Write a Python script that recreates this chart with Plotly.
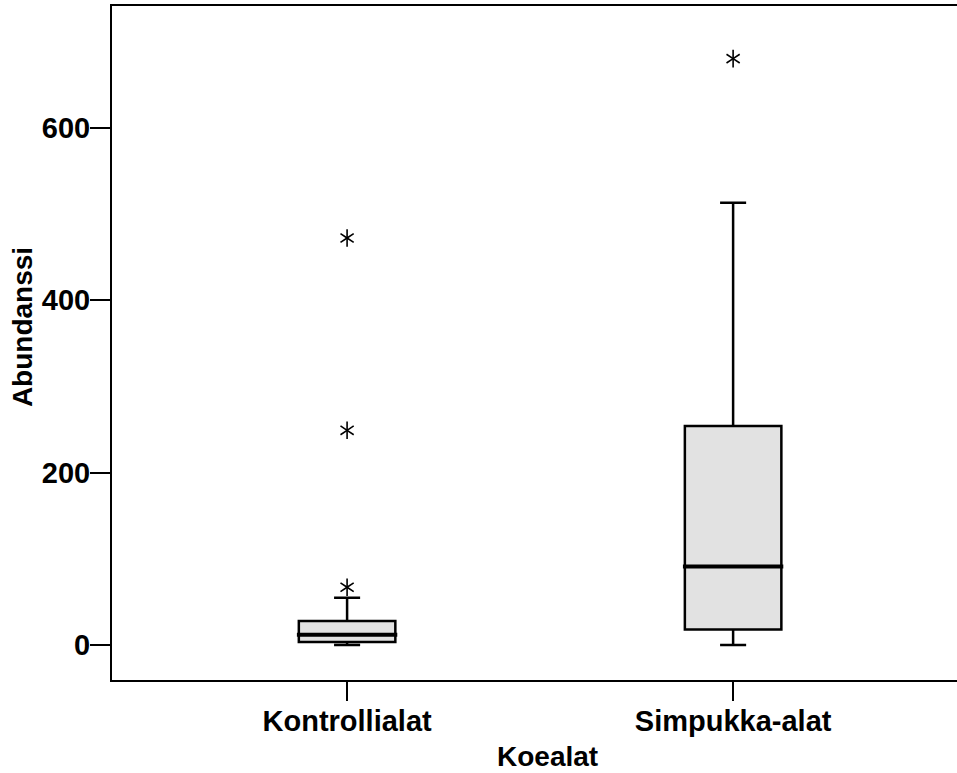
import plotly.graph_objects as go

categories = ["Kontrollialat", "Simpukka-alat"]
positions = [0, 1]
q1 = [3.5, 18]
median = [12, 91]
q3 = [28, 254]
lower_fence = [0, 0]
upper_fence = [55, 513]
outlier_x = [0, 0, 0, 1]
outlier_y = [67, 249, 472, 680]

y_ticks = [0, 200, 400, 600]

box_width = 0.25
FONT = "Liberation Sans, Arial, sans-serif"

fig = go.Figure()
for i, cat in enumerate(categories):
    fig.add_trace(go.Box(
        x=[positions[i]], q1=[q1[i]], median=[median[i]], q3=[q3[i]],
        lowerfence=[lower_fence[i]], upperfence=[upper_fence[i]],
        width=box_width, whiskerwidth=0.27, boxpoints=False,
        fillcolor="#e2e2e2", line=dict(color="black", width=2.5),
        name=cat, showlegend=False, hoverinfo="skip",
    ))
    fig.add_trace(go.Scatter(
        x=[positions[i] - box_width / 2 - 0.005, positions[i] + box_width / 2 + 0.005],
        y=[median[i], median[i]], mode="lines",
        line=dict(color="black", width=4), showlegend=False, hoverinfo="skip",
    ))

for sym in ["y-up-open", "y-down-open"]:
    fig.add_trace(go.Scatter(
        x=outlier_x, y=outlier_y, mode="markers",
        marker=dict(symbol=sym, size=11, line=dict(color="black", width=1.6), color="black"),
        showlegend=False, hoverinfo="skip",
    ))

fig.update_layout(
    width=957, height=773,
    margin=dict(l=112, r=0, t=6, b=93),
    paper_bgcolor="white", plot_bgcolor="white",
    font=dict(family=FONT, color="black", size=28),
    xaxis=dict(
        range=[-0.609, 1.580], tickvals=positions, ticktext=["<b>%s</b>" % c for c in categories],
        ticks="outside", ticklen=19, tickwidth=2, tickcolor="black",
        showline=True, linecolor="black", linewidth=2, mirror=True,
        showgrid=False, zeroline=False,
        tickfont=dict(size=29), ticklabelstandoff=-5,
    ),
    yaxis=dict(
        range=[-40.5, 741], tickvals=y_ticks, ticktext=["<b>%d</b>" % v for v in y_ticks],
        ticks="outside", ticklen=20, tickwidth=2, tickcolor="black",
        showline=True, linecolor="black", linewidth=2, mirror=False,
        showgrid=False, zeroline=False,
        tickfont=dict(size=29), ticklabelstandoff=-6,
    ),
    annotations=[
        dict(text="<b>Koealat</b>", xref="paper", yref="paper", x=0.515, y=-0.113,
             xanchor="center", yanchor="middle", showarrow=False, font=dict(size=28)),
        dict(text="<b>Abundanssi</b>", xref="paper", yref="paper", x=-0.105, y=0.524,
             xanchor="center", yanchor="middle", textangle=-90, showarrow=False,
             font=dict(size=28)),
    ],
)

fig.write_html("out.html")
